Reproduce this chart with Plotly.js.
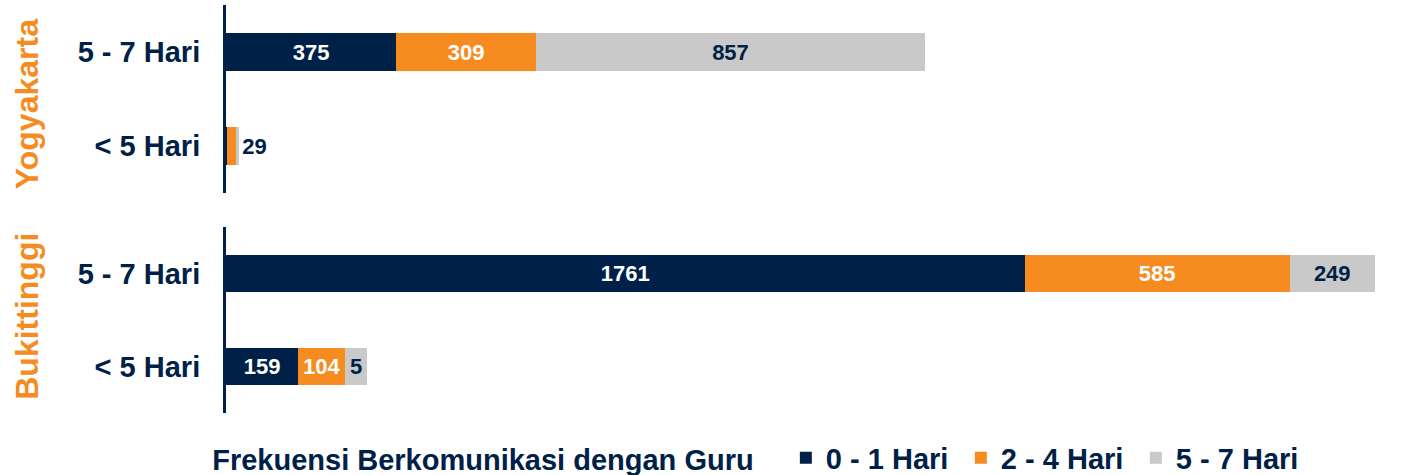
<!DOCTYPE html>
<html>
<head>
<meta charset="utf-8">
<script src="https://cdn.plot.ly/plotly-3.0.1.min.js"></script>
<style>html,body{margin:0;padding:0;background:#fff;}#chart{width:1406px;height:475px;}</style>
</head>
<body>
<div id="chart"></div>
<script>
// Categories
const rows = ['5 - 7 Hari', '< 5 Hari'];
const seriesNames = ['0 - 1 Hari', '2 - 4 Hari', '5 - 7 Hari'];
const legendTitle = 'Frekuensi Berkomunikasi dengan Guru';
const cityNames = ['Yogyakarta', 'Bukittinggi'];

// Yogyakarta values (rows order: 5 - 7 Hari, < 5 Hari)
const yogya01 = [375, 3];
const yogya24 = [309, 20];
const yogya57 = [857, 6];
const yogyaLbl01 = ['375', ''];
const yogyaLbl24 = ['309', ''];
const yogyaLbl57 = ['857', '29'];

// Bukittinggi values (bar lengths as drawn; labels as printed)
const bukit01 = [1761, 159];
const bukit24 = [585, 104];
const bukit57 = [187, 48];
const bukitLbl01 = ['1761', '159'];
const bukitLbl24 = ['585', '104'];
const bukitLbl57 = ['249', '5'];

const NAVY = '#002147', ORANGE = '#F68B1F', GRAY = '#C9C9C9';
const FONT = 'Arial, "Liberation Sans", sans-serif';
const colors = [NAVY, ORANGE, GRAY];
const textColors = ['#ffffff', '#ffffff', NAVY];

function mk(vals, lbls, i, yax, showLeg, positions) {
  return {
    type: 'bar', orientation: 'h',
    x: vals, y: rows, yaxis: yax, xaxis: 'x',
    name: seriesNames[i], legendgroup: seriesNames[i], showlegend: showLeg,
    marker: {color: colors[i], line: {width: 0}},
    text: lbls, textposition: positions || 'inside', insidetextanchor: 'middle',
    constraintext: 'none', cliponaxis: false,
    textfont: {family: FONT, size: 22, color: textColors[i], weight: 'bold'},
    insidetextfont: {family: FONT, size: 22, color: textColors[i], weight: 'bold'},
    outsidetextfont: {family: FONT, size: 22, color: NAVY, weight: 'bold'},
    hoverinfo: 'x+y+name'
  };
}

const data = [
  mk(yogya01, yogyaLbl01, 0, 'y', true),
  mk(yogya24, yogyaLbl24, 1, 'y', true),
  mk(yogya57, yogyaLbl57, 2, 'y', true, ['inside', 'outside']),
  mk(bukit01, bukitLbl01, 0, 'y2', false),
  mk(bukit24, bukitLbl24, 1, 'y2', false),
  mk(bukit57, bukitLbl57, 2, 'y2', false),
];

const yaxisCommon = {
  type: 'category', categoryorder: 'array', categoryarray: rows.slice().reverse(),
  showline: true, linecolor: NAVY, linewidth: 3, showgrid: false, zeroline: false,
  ticks: '', ticklabelstandoff: 17,
  tickfont: {family: FONT, size: 29, color: NAVY, weight: 'bold'},
  fixedrange: true
};

const layout = {
  width: 1406, height: 475,
  margin: {l: 226, r: 30, t: 5, b: 62},
  paper_bgcolor: '#ffffff', plot_bgcolor: '#ffffff',
  barmode: 'stack', bargap: 0.6,
  xaxis: {range: [0, 2536], visible: false, showgrid: false, zeroline: false, fixedrange: true},
  yaxis: Object.assign({domain: [0.539, 1], anchor: 'x'}, yaxisCommon),
  yaxis2: Object.assign({domain: [0, 0.456], anchor: 'x'}, yaxisCommon),
  showlegend: true,
  legend: {
    orientation: 'h', xref: 'container', yref: 'container',
    x: 0.1495, xanchor: 'left', y: 0.036, yanchor: 'middle',
    entrywidth: 130, entrywidthmode: 'pixels',
    title: {text: legendTitle + '\u00a0\u00a0\u00a0', side: 'left', font: {family: FONT, size: 29, color: NAVY, weight: 'bold'}},
    font: {family: FONT, size: 29, color: NAVY, weight: 'bold'},
    traceorder: 'normal', itemclick: false, itemdoubleclick: false
  },
  annotations: [
    {text: cityNames[0], xref: 'paper', yref: 'paper', x: -0.173, y: 0.757, xanchor: 'center', yanchor: 'middle',
     textangle: -90, showarrow: false, font: {family: FONT, size: 32, color: ORANGE, weight: 'bold'}},
    {text: cityNames[1], xref: 'paper', yref: 'paper', x: -0.173, y: 0.236, xanchor: 'center', yanchor: 'middle',
     textangle: -90, showarrow: false, font: {family: FONT, size: 32, color: ORANGE, weight: 'bold'}}
  ]
};

Plotly.newPlot('chart', data, layout, {displayModeBar: false, staticPlot: true});
</script>
</body>
</html>
